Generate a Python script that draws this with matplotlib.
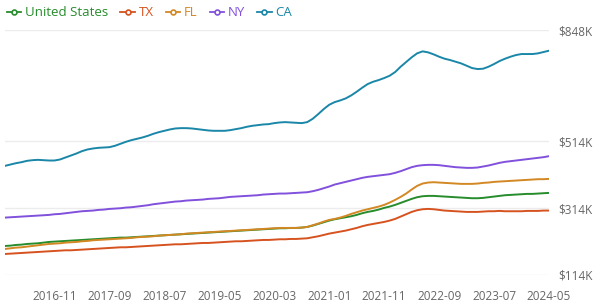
import matplotlib
matplotlib.use("Agg")
import matplotlib.pyplot as plt
import pandas as pd
from matplotlib.lines import Line2D

plt.rcParams['font.family'] = ['Open Sans', 'DejaVu Sans']

# monthly median values, $K, 2016-02 .. 2024-05
months = pd.period_range('2016-02', '2024-05', freq='M').strftime('%Y-%m').tolist()

us = [201, 202, 204, 205, 207, 208, 209, 211, 213, 214,
      215, 216, 217, 218, 219, 220, 221, 222, 223, 224,
      225, 226, 226, 227, 228, 229, 230, 231, 232, 233,
      234, 235, 236, 237, 238, 239, 240, 241, 242, 243,
      244, 245, 246, 247, 248, 249, 250, 251, 252, 253,
      254, 254, 255, 255, 256, 258, 262, 267, 272, 277,
      281, 284, 287, 290, 294, 299, 303, 306, 310, 315,
      319, 324, 330, 336, 342, 347, 350, 351, 351, 350,
      349, 348, 347, 346, 345, 344, 344, 345, 347, 349,
      351, 353, 354, 355, 356, 357, 357, 358, 359, 360]

tx = [177, 178, 179, 180, 181, 182, 183, 184, 185, 186,
      187, 188, 188, 189, 190, 191, 192, 193, 194, 195,
      196, 197, 197, 198, 199, 200, 201, 202, 203, 204,
      205, 206, 206, 207, 208, 209, 210, 210, 211, 212,
      213, 214, 215, 215, 216, 217, 218, 219, 219, 220,
      221, 221, 222, 222, 223, 224, 227, 230, 234, 238,
      241, 244, 247, 251, 255, 260, 264, 267, 270, 273,
      277, 282, 289, 296, 303, 308, 311, 312, 311, 309,
      307, 306, 305, 304, 303, 303, 303, 304, 305, 305,
      306, 305, 305, 305, 305, 306, 306, 306, 307, 307]

fl = [192, 194, 196, 197, 199, 201, 203, 205, 207, 208,
      209, 211, 212, 213, 215, 216, 218, 219, 220, 221,
      222, 223, 224, 225, 227, 228, 229, 230, 232, 233,
      234, 235, 236, 238, 239, 240, 241, 242, 243, 244,
      245, 246, 247, 248, 249, 250, 251, 252, 253, 254,
      255, 255, 255, 255, 256, 258, 263, 268, 274, 279,
      282, 286, 291, 297, 302, 307, 311, 315, 319, 324,
      331, 339, 348, 358, 370, 381, 388, 391, 392, 391,
      390, 389, 388, 387, 387, 387, 388, 390, 391, 393,
      394, 395, 396, 397, 398, 399, 400, 401, 401, 402]

ny = [286, 287, 288, 289, 290, 291, 292, 293, 294, 296,
      297, 299, 301, 303, 305, 306, 307, 309, 310, 312,
      313, 314, 316, 317, 319, 321, 323, 326, 328, 330,
      332, 334, 335, 337, 338, 339, 340, 342, 343, 344,
      346, 348, 349, 350, 351, 352, 353, 355, 356, 357,
      358, 358, 359, 360, 361, 362, 365, 369, 374, 379,
      385, 389, 393, 397, 401, 405, 408, 410, 412, 414,
      416, 420, 425, 431, 437, 441, 443, 444, 444, 443,
      441, 439, 437, 436, 435, 435, 436, 439, 442, 446,
      450, 453, 455, 457, 459, 461, 463, 465, 467, 470]

ca = [441, 445, 449, 452, 456, 458, 459, 458, 457, 457,
      460, 466, 472, 478, 485, 490, 493, 495, 496, 497,
      501, 507, 513, 518, 522, 526, 531, 537, 542, 546,
      550, 553, 554, 554, 553, 551, 549, 547, 546, 546,
      546, 548, 551, 554, 558, 561, 563, 565, 566, 569,
      571, 572, 571, 570, 569, 572, 582, 596, 611, 624,
      632, 637, 643, 652, 663, 675, 686, 693, 698, 704,
      711, 722, 738, 752, 766, 778, 784, 781, 775, 768,
      762, 758, 753, 748, 741, 734, 731, 732, 738, 746,
      755, 762, 768, 773, 776, 776, 776, 778, 782, 786]

names = ['United States', 'TX', 'FL', 'NY', 'CA']
colors = ['#268c2c', '#d6521f', '#d38823', '#8150dc', '#1a87a8']
series = [us, tx, fl, ny, ca]
yticks = [114, 314, 514, 848]

fig = plt.figure(figsize=(6.13, 3.08), dpi=100)
ax = fig.add_axes([5 / 613, 33 / 308, 544 / 613, 245 / 308])

x = range(len(months))
for vals, c in zip(series, colors):
    ax.plot(x, vals, color=c, lw=1.4, solid_joinstyle='round')

ax.set_xlim(0, len(months) - 1)
ax.set_ylim(114, 848)
ax.set_yticks(yticks)
ax.set_yticklabels([f'${v}K' for v in yticks])
ax.yaxis.tick_right()
ax.set_xticks(range(9, len(months), 10))
ax.set_xticklabels([months[i] for i in range(9, len(months), 10)])
ax.grid(axis='y', color='#ececec', lw=1)
ax.tick_params(length=0, labelsize=8.5, labelcolor='#666666')
ax.tick_params(axis='x', pad=11)
ax.tick_params(axis='y', pad=7)
for s in ax.spines.values():
    s.set_visible(False)

handles = [Line2D([], [], color=c, lw=1.3, marker='o', ms=3.5,
                  mfc='white', mec=c, mew=1.2) for c in colors]
leg = fig.legend(handles, names, loc='upper left', bbox_to_anchor=(-0.002, 1.005),
                 ncol=5, frameon=False, fontsize=9.5, handlelength=1.1,
                 handletextpad=0.3, columnspacing=0.9, borderaxespad=0.2)
for t, c in zip(leg.get_texts(), colors):
    t.set_color(c)

fig.savefig('out.png', dpi=100)
